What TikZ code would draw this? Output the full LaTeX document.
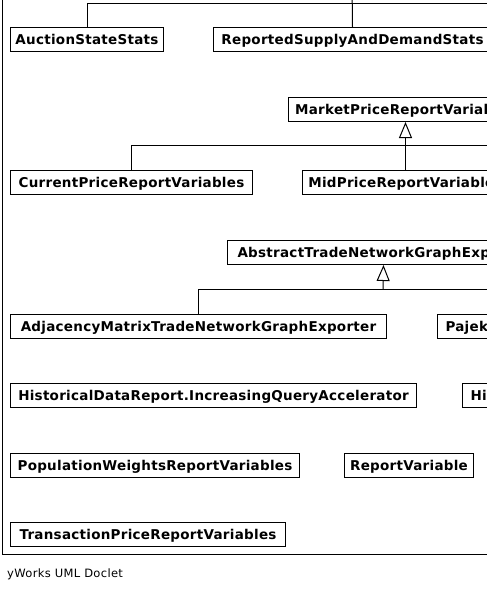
\documentclass[tikz,border=0pt]{standalone}
\usepackage{fontspec}
\setmainfont{DejaVu Sans}
\newfontfamily\clsfont[LetterSpace=2]{DejaVu Sans}
\newfontfamily\footfont[LetterSpace=3]{DejaVu Sans}
\usetikzlibrary{arrows.meta}
\tikzset{
  cls/.style={draw=black, line width=1pt, fill=white, anchor=north west,
    minimum height=24pt, inner ysep=0pt, inner xsep=0pt,
    text height=9.8pt, text depth=0pt,
    font=\fontsize{13.5}{15}\clsfont\bfseries},
  clsl/.style={cls, align=left},
  conn/.style={draw=black, line width=1pt},
  inh/.style={conn, -{Triangle[open, length=16pt, width=13pt, fill=white]}},
  footer/.style={anchor=base west, inner sep=0pt, font=\fontsize{11.5}{13}\footfont}
}
\begin{document}
\begin{tikzpicture}[x=1pt, y=-1pt]
\useasboundingbox (0,0) rectangle (487,592);
\fill[white] (0,0) rectangle (487,592);
\clip (0,0) rectangle (487,592);
% frame
\draw[conn] (2,-20) -- (2,554) -- (520,554);
% row 1
\node[cls, minimum width=153pt] (ass) at (10,27) {AuctionStateStats};
\node[cls, minimum width=278pt] (rsd) at (213,27) {ReportedSupplyAndDemandStats};
\coordinate (topr) at (530,3);
\coordinate (topu) at (352,-20);
\draw[conn] (ass.north) |- (topr);
\draw[conn] (rsd.north) -- (topu);
% market price group
\node[cls, minimum width=234pt] (mkt) at (288,97) {MarketPriceReportVariables};
\node[cls, minimum width=242pt] (cur) at (10,170) {CurrentPriceReportVariables};
\node[cls, minimum width=206pt] (mid) at (302,170) {MidPriceReportVariables};
\coordinate (mj) at (405,145);
\coordinate (mr) at (530,145);
\draw[conn] (cur.north) |- (mj);
\draw[conn] (mj) -- (mr);
\draw[inh] (mid.north) -- (mkt.south);
% trade network group
\node[cls, minimum width=312pt] (abs) at (227,240) {AbstractTradeNetworkGraphExporter};
\node[cls, minimum width=376pt] (adj) at (10,314) {AdjacencyMatrixTradeNetworkGraphExporter};
\node[clsl, text width=120pt, inner xsep=8pt] (paj) at (437,314) {Pajek};
\coordinate (aj) at (383,289);
\coordinate (ar) at (530,289);
\draw[conn] (adj.north) |- (aj);
\draw[conn] (aj) -- (ar);
\draw[inh] (aj) -- (abs.south);
% others
\node[cls, minimum width=406pt] (hqa) at (10,383) {HistoricalDataReport.IncreasingQueryAccelerator};
\node[clsl, text width=120pt, inner xsep=8pt] (hi) at (462,383) {Hi};
\node[cls, minimum width=289pt] (pop) at (10,453) {PopulationWeightsReportVariables};
\node[cls, minimum width=129pt] (rv) at (344,453) {ReportVariable};
\node[cls, minimum width=275pt] (tpr) at (10,522) {TransactionPriceReportVariables};
% footer
\node[footer] (doc) at (7,577) {yWorks UML Doclet};
\end{tikzpicture}
\end{document}
